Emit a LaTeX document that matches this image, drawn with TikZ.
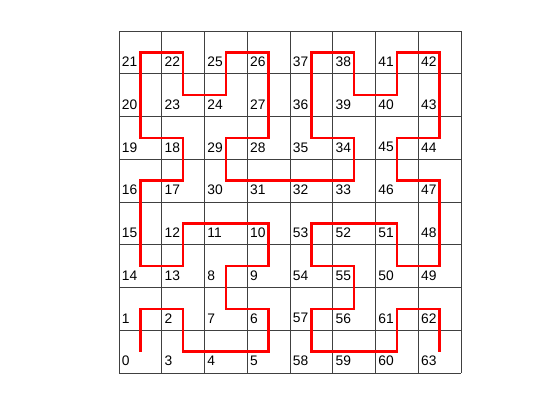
\documentclass[tikz,border=0pt]{standalone}
\usepackage{fontspec}
\setmainfont{Liberation Sans}
\begin{document}
\begin{tikzpicture}[
      cellgrid/.style={draw=black!75, line width=0.6pt},
      curve/.style={draw=red, line width=1.8pt, line join=miter},
      num/.style={font=\fontsize{9.2}{11}\selectfont, anchor=west, inner sep=0pt},
   ]
   \useasboundingbox (-2.784,-1.099) rectangle (10.316,8.725);

   % Cells
   \draw[cellgrid] (0,0) grid (8,8);

   % Cell numbers, row by row from the bottom
   \foreach \row/\labs in {
         0/{0,3,4,5,58,59,60,63},
         1/{1,2,7,6,57,56,61,62},
         2/{14,13,8,9,54,55,50,49},
         3/{15,12,11,10,53,52,51,48},
         4/{16,17,30,31,32,33,46,47},
         5/{19,18,29,28,35,34,45,44},
         6/{20,23,24,27,36,39,40,43},
         7/{21,22,25,26,37,38,41,42}}{
      \foreach \n [count=\col from 0] in \labs {
         \coordinate (c\n) at (\col+0.5, \row+0.5);
         \node[num] (l\n) at (\col+0.06, \row+0.28) {\n};
      }
   }

   % Curve through the cell centres
   \draw[curve] (c0) \foreach \i in {1,...,63}{ -- (c\i) };
\end{tikzpicture}
\end{document}
